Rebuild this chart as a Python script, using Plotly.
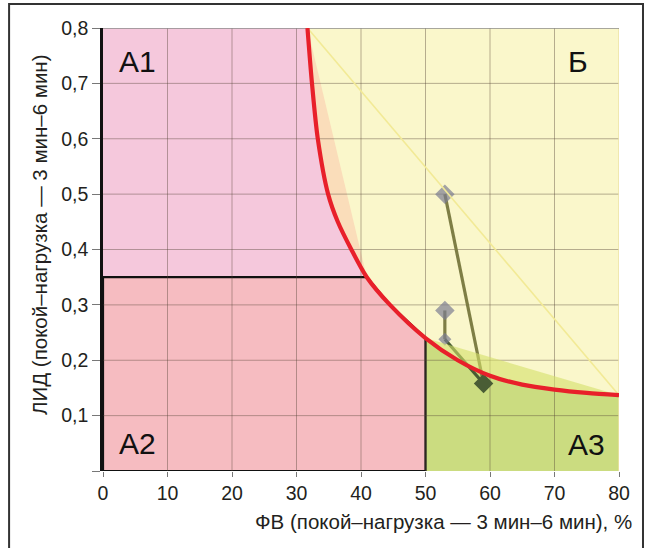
import plotly.graph_objects as go

# ---------------- data ----------------
x_ticks = [0, 10, 20, 30, 40, 50, 60, 70, 80]
x_tick_text = ["0", "10", "20", "30", "40", "50", "60", "70", "80"]
y_ticks = [0, 0.1, 0.2, 0.3, 0.4, 0.5, 0.6, 0.7, 0.8]
y_tick_text = ["", "0,1", "0,2", "0,3", "0,4", "0,5", "0,6", "0,7", "0,8"]

# boundary curve
curve_x = [31.7, 32.4, 33.3, 34.9, 36.4, 38.5, 40.9, 44.5, 50.0, 55.0, 60.0, 65.0, 70.0, 75.0, 80.0]
curve_y = [0.80, 0.70, 0.60, 0.50, 0.45, 0.40, 0.35, 0.30, 0.24, 0.200, 0.172, 0.156, 0.147, 0.141, 0.137]

# region limits
fv_limit = 50          # ФВ threshold
lid_limit = 0.35       # ЛИД threshold

# patient points (before -> after)
fv_before = [53, 53]
lid_before = [0.50, 0.29]
fv_after = [53, 59]
lid_after = [0.238, 0.158]

region_labels = ["А1", "Б", "А2", "А3"]

# ---------------- helpers ----------------
x_min, x_max = x_ticks[0], x_ticks[-1]
y_min, y_max = y_ticks[0], y_ticks[-1]

i_lid = curve_y.index(lid_limit)
i_fv = curve_x.index(fv_limit)

fig = go.Figure()

def poly(xs, ys, fill, line_color=None, line_width=0):
    fig.add_trace(go.Scatter(
        x=xs, y=ys, mode="lines", fill="toself", fillcolor=fill,
        line=dict(color=line_color or "rgba(0,0,0,0)", width=line_width),
        hoverinfo="skip", showlegend=False))

# A1 (pink)
poly([x_min, x_min] + curve_x[:i_lid + 1] + [x_min],
     [lid_limit, y_max] + curve_y[:i_lid + 1] + [lid_limit], "#F5C8DC")
# A3 (green)
poly([fv_limit] + curve_x[i_fv:] + [x_max, fv_limit],
     [y_min] + curve_y[i_fv:] + [y_min, y_min], "#CBDC80")
# peach wedge between curve and chord
poly(curve_x[:i_lid + 1] + [curve_x[0]],
     curve_y[:i_lid + 1] + [curve_y[0]], "#FADDBA")
# A2 (salmon) with black border
poly([x_min, x_min] + curve_x[i_lid:i_fv + 1] + [fv_limit, x_min],
     [y_min, lid_limit] + curve_y[i_lid:i_fv + 1] + [y_min, y_min],
     "#F6BCC1", "#111111", 2.2)

# gridlines (drawn over fills)
gx, gy = [], []
for t in x_ticks[1:-1]:
    gx += [t, t, None]
    gy += [y_min, y_max, None]
for t in y_ticks[1:-1]:
    gx += [x_min, x_max, None]
    gy += [t, t, None]
fig.add_trace(go.Scatter(x=gx, y=gy, mode="lines",
                         line=dict(color="rgba(85,70,55,0.42)", width=1),
                         hoverinfo="skip", showlegend=False))
# right edge and top edge
fig.add_trace(go.Scatter(x=[x_max, x_max], y=[y_min, y_max], mode="lines",
                         line=dict(color="#EDE3A6", width=1.5),
                         hoverinfo="skip", showlegend=False))
fig.add_trace(go.Scatter(x=[x_min, x_max], y=[y_max, y_max], mode="lines",
                         line=dict(color="#8C8C8C", width=1.5),
                         hoverinfo="skip", showlegend=False))

# before -> after connections
pair_x, pair_y = [], []
pairs = [(0, 1), (1, 0)]  # before index -> after index
for b, a in pairs:
    pair_x += [fv_before[b], fv_after[a], None]
    pair_y += [lid_before[b], lid_after[a], None]
fig.add_trace(go.Scatter(x=pair_x, y=pair_y, mode="lines",
                         line=dict(color="#7E7E45", width=3.2),
                         hoverinfo="skip", showlegend=False))
fig.add_trace(go.Scatter(x=fv_after, y=lid_after, mode="lines",
                         line=dict(color="#485C33", width=3.2),
                         hoverinfo="skip", showlegend=False))
# markers
fig.add_trace(go.Scatter(x=fv_before + [fv_after[0]], y=lid_before + [lid_after[0]],
                         mode="markers",
                         marker=dict(symbol="diamond", size=[15, 15, 10], color="#7C7D92",
                                     line=dict(width=0)),
                         hoverinfo="skip", showlegend=False))
fig.add_trace(go.Scatter(x=[fv_after[1]], y=[lid_after[1]], mode="markers",
                         marker=dict(symbol="diamond", size=15, color="#4A5D35",
                                     line=dict(width=0)),
                         hoverinfo="skip", showlegend=False))

# translucent wedge above curve (50..80)
poly(curve_x[i_fv:] + [curve_x[i_fv]], curve_y[i_fv:] + [curve_y[i_fv]],
     "rgba(212,224,105,0.6)")

# thin yellow chord
fig.add_trace(go.Scatter(x=[curve_x[0], curve_x[-1]], y=[curve_y[0], curve_y[-1]],
                         mode="lines", line=dict(color="#F2EA96", width=1.6),
                         hoverinfo="skip", showlegend=False))

# red boundary curve
fig.add_trace(go.Scatter(x=curve_x, y=curve_y, mode="lines",
                         line=dict(color="#E8202A", width=4.2, shape="spline", smoothing=0.8),
                         hoverinfo="skip", showlegend=False))

font_family = "Liberation Sans, Arial, Helvetica, sans-serif"

# region labels
label_pos = [(5.3, 0.74), (73.6, 0.74), (5.3, 0.049), (74.9, 0.047)]
for txt, (lx, ly) in zip(region_labels, label_pos):
    fig.add_annotation(x=lx, y=ly, xref="x", yref="y", text=txt, showarrow=False,
                       font=dict(family=font_family, size=30, color="#111111"),
                       xanchor="center", yanchor="middle")

# axis titles
fig.add_annotation(x=0.66, y=-0.115, xref="paper", yref="paper",
                   text="ФВ (покой–нагрузка — 3 мин–6 мин), %", showarrow=False,
                   font=dict(family=font_family, size=20.5, color="#231F20"),
                   xanchor="center", yanchor="middle")
fig.add_annotation(x=-0.122, y=0.533, xref="paper", yref="paper",
                   text="ЛИД (покой–нагрузка — 3 мин–6 мин)", showarrow=False,
                   textangle=-90,
                   font=dict(family=font_family, size=20.5, color="#231F20"),
                   xanchor="center", yanchor="middle")

# outer frame
fig.add_shape(type="rect", xref="paper", yref="paper",
              x0=-0.182, x1=1.0465, y0=-0.3, y1=1.054,
              line=dict(color="#333333", width=2), fillcolor="rgba(0,0,0,0)")

fig.update_layout(
    width=646, height=548,
    margin=dict(l=103, r=27, t=28, b=77),
    paper_bgcolor="white",
    plot_bgcolor="#FAF7CB",
    showlegend=False,
    font=dict(family=font_family, size=19, color="#231F20"),
)
fig.update_xaxes(range=[x_min, x_max], tickvals=x_ticks, ticktext=x_tick_text,
                 showgrid=False, zeroline=False, showline=False,
                 ticks="outside", ticklen=5, tickwidth=1, tickcolor="#777777",
                 tickfont=dict(family=font_family, size=19.5, color="#231F20"))
fig.update_yaxes(range=[y_min, y_max], tickvals=y_ticks, ticktext=y_tick_text,
                 showgrid=False, zeroline=False, showline=True,
                 linecolor="#111111", linewidth=2.5,
                 ticks="outside", ticklen=8, tickwidth=1, tickcolor="#777777",
                 tickfont=dict(family=font_family, size=19.5, color="#231F20"))

# remove the browser's default page margin so the figure sits at the window origin
fig.write_html("out.html",
               config={"displayModeBar": False},
               post_script="document.body.style.margin='0';document.body.style.overflow='hidden';")
